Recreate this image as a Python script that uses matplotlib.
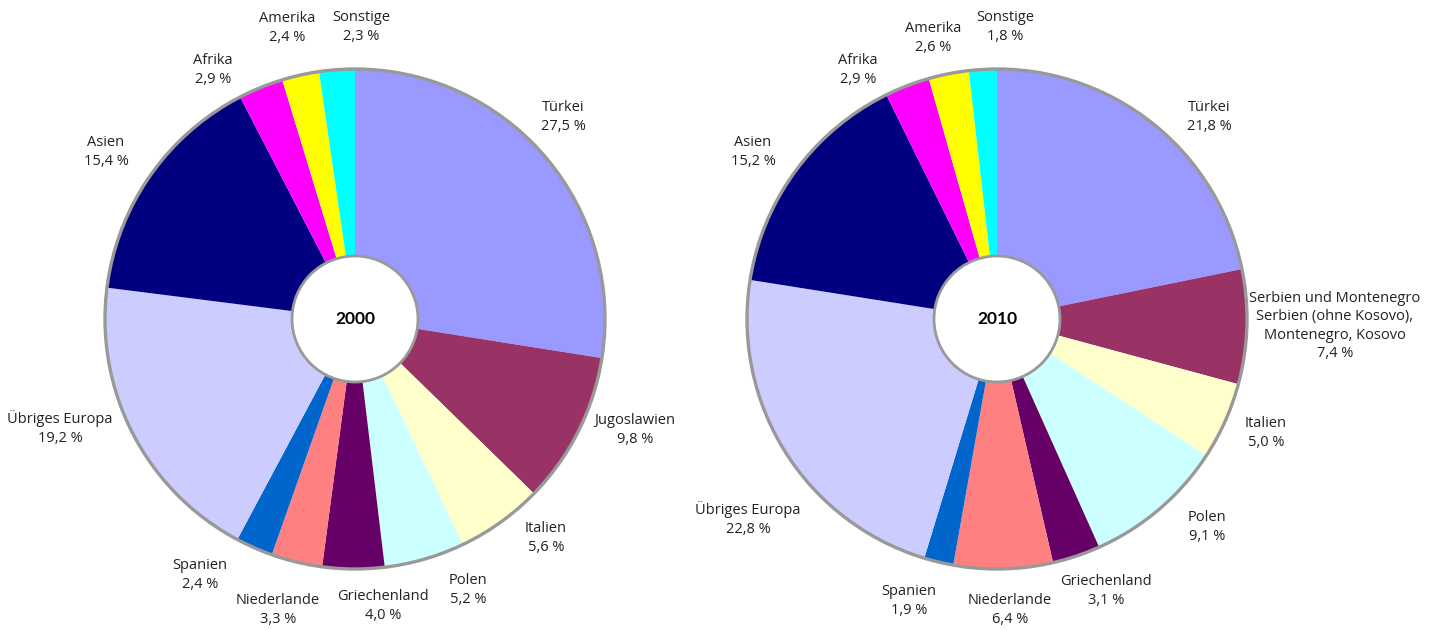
import matplotlib
matplotlib.use("Agg")
import matplotlib.pyplot as plt
from matplotlib.patches import Circle

plt.rcParams['font.family'] = ['Open Sans', 'DejaVu Sans']

categories_2000 = ["Türkei", "Jugoslawien", "Italien", "Polen", "Griechenland",
                   "Niederlande", "Spanien", "Übriges Europa", "Asien", "Afrika",
                   "Amerika", "Sonstige"]
values_2000 = [27.5, 9.8, 5.6, 5.2, 4.0, 3.3, 2.4, 19.2, 15.4, 2.9, 2.4, 2.3]

categories_2010 = ["Türkei", "Serbien und Montenegro\nSerbien (ohne Kosovo),\nMontenegro, Kosovo",
                   "Italien", "Polen", "Griechenland", "Niederlande", "Spanien",
                   "Übriges Europa", "Asien", "Afrika", "Amerika", "Sonstige"]
values_2010 = [21.8, 7.4, 5.0, 9.1, 3.1, 6.4, 1.9, 22.8, 15.2, 2.9, 2.6, 1.8]

years = ["2000", "2010"]

colors = ["#9999FF", "#993366", "#FFFFCC", "#CCFFFF", "#660066", "#FF8080",
          "#0066CC", "#CCCCFF", "#000080", "#FF00FF", "#FFFF00", "#00FFFF"]

# layout: label offsets from pie centre (pixels, y up)
label_offsets_2000 = [(208, 202), (280, -111), (191, -219), (113, -271), (28, -287),
                      (-77, -291), (-155, -256), (-295, -109), (-249, 167),
                      (-142, 249), (-68, 291), (6, 292)]
label_offsets_2010 = [(212, 202), (338, -7), (269, -114), (210, -208), (109, -272),
                      (13, -291), (-88, -282), (-249, -200), (-244, 167),
                      (-139, 249), (-64, 281), (8, 292)]

W, H = 1446, 630
fig = plt.figure(figsize=(W / 100, H / 100), dpi=100)
ax = fig.add_axes([0, 0, 1, 1])
ax.set_xlim(0, W)
ax.set_ylim(0, H)
ax.set_aspect('equal')
ax.axis('off')

R = 250
centers = [(355, H - 319), (997, H - 319)]
datasets = [(categories_2000, values_2000, label_offsets_2000),
            (categories_2010, values_2010, label_offsets_2010)]

for (cx, cy), (cats, vals, offs), year in zip(centers, datasets, years):
    ax.pie(vals, colors=colors, startangle=90, counterclock=False,
           center=(cx, cy), radius=R, frame=True,
           wedgeprops=dict(linewidth=0, edgecolor='none'))
    ax.add_patch(Circle((cx, cy), R, fill=False, edgecolor='#999999', lw=2.4, zorder=5))
    ax.add_patch(Circle((cx, cy), 63, facecolor='white', edgecolor='#999999', lw=2.0, zorder=6))
    ax.text(cx, cy, year, ha='center', va='center', fontsize=12.5, fontweight='bold',
            family=['Lato', 'DejaVu Sans'], color='#000000', zorder=7)
    for cat, v, (dx, dy) in zip(cats, vals, offs):
        lbl = f"{cat}\n{v:.1f} %".replace('.', ',')
        ax.text(cx + dx, cy + dy, lbl, ha='center', va='center', fontsize=10.5,
                linespacing=1.3, color='#222222', zorder=7)

ax.set_xlim(0, W)
ax.set_ylim(0, H)
ax.axis('off')
fig.savefig("out.png", dpi=100)
